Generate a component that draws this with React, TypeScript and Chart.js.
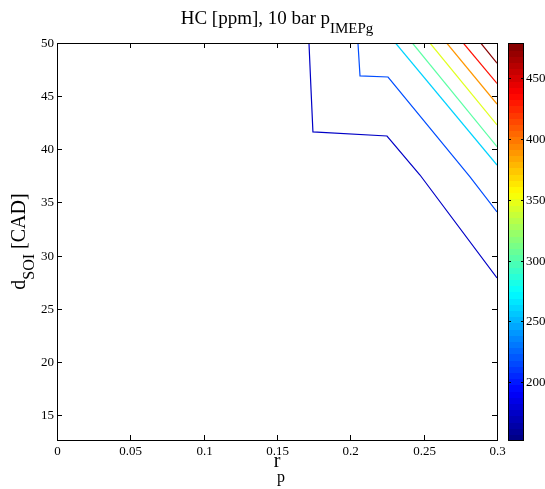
import React, { useEffect, useRef } from "react";
import { Chart, registerables } from "chart.js";

Chart.register(...registerables);

// ---- data ----
const xTicks = [0, 0.05, 0.1, 0.15, 0.2, 0.25, 0.3];
const xTickLabels = ["0", "0.05", "0.1", "0.15", "0.2", "0.25", "0.3"];
const yTicks = [15, 20, 25, 30, 35, 40, 45, 50];
const yTickLabels = ["15", "20", "25", "30", "35", "40", "45", "50"];
const cbTicks = [200, 250, 300, 350, 400, 450];
const cbTickLabels = ["200", "250", "300", "350", "400", "450"];
const cbMin = 152.5;
const cbMax = 479;
const xMin = 0;
const xMax = 0.3;
const yMin = 12.65;
const yMax = 50;

const levels = [175, 218, 261, 304, 347, 390, 433, 476];

const c1x = [0.1718, 0.1732, 0.1745, 0.225, 0.2475, 0.3];
const c1y = [50, 45.6, 41.63, 41.25, 37.58, 27.9];
const c2x = [0.2052, 0.2066, 0.2257, 0.2816, 0.3];
const c2y = [50, 46.9, 46.8, 37.4, 34.1];
const c3x = [0.2308, 0.3];
const c3y = [50, 38.52];
const c4x = [0.2423, 0.3];
const c4y = [50, 40.25];
const c5x = [0.2543, 0.3];
const c5y = [50, 42.3];
const c6x = [0.2657, 0.3];
const c6y = [50, 44.26];
const c7x = [0.277, 0.3];
const c7y = [50, 46.2];
const c8x = [0.2889, 0.3];
const c8y = [50, 48.1];

const contourXs = [c1x, c2x, c3x, c4x, c5x, c6x, c7x, c8x];
const contourYs = [c1y, c2y, c3y, c4y, c5y, c6y, c7y, c8y];

function clamp(v: number) {
  return Math.max(0, Math.min(1, v));
}
function jet(t: number): string {
  const r = clamp(1.5 - Math.abs(4 * t - 3));
  const g = clamp(1.5 - Math.abs(4 * t - 2));
  const b = clamp(1.5 - Math.abs(4 * t - 1));
  return `rgb(${Math.round(r * 255)},${Math.round(g * 255)},${Math.round(b * 255)})`;
}
function levelColor(v: number) {
  return jet((v - cbMin) / (cbMax - cbMin));
}

const SERIF = "'Liberation Serif', 'Times New Roman', serif";

const decorPlugin = {
  id: "decor",
  afterDraw(chart: any) {
    const ctx: CanvasRenderingContext2D = chart.ctx;
    const area = chart.chartArea;
    const xs = chart.scales.x;
    const ys = chart.scales.y;
    ctx.save();
    // axes box
    ctx.strokeStyle = "#000";
    ctx.lineWidth = 1;
    ctx.strokeRect(Math.round(area.left) + 0.5, Math.round(area.top) + 0.5, Math.round(area.right - area.left), Math.round(area.bottom - area.top));
    const tl = 5;
    ctx.fillStyle = "#000";
    ctx.font = `13px ${SERIF}`;
    // x ticks
    ctx.textAlign = "center";
    ctx.textBaseline = "top";
    xTicks.forEach((v, i) => {
      const px = Math.round(xs.getPixelForValue(v)) + 0.5;
      ctx.beginPath();
      ctx.moveTo(px, area.bottom);
      ctx.lineTo(px, area.bottom - tl);
      ctx.moveTo(px, area.top);
      ctx.lineTo(px, area.top + tl);
      ctx.stroke();
      ctx.fillText(xTickLabels[i], px, area.bottom + 5);
    });
    // y ticks
    ctx.textAlign = "right";
    ctx.textBaseline = "middle";
    yTicks.forEach((v, i) => {
      const py = Math.round(ys.getPixelForValue(v)) + 0.5;
      ctx.beginPath();
      ctx.moveTo(area.left, py);
      ctx.lineTo(area.left + tl, py);
      ctx.moveTo(area.right, py);
      ctx.lineTo(area.right - tl, py);
      ctx.stroke();
      ctx.fillText(yTickLabels[i], area.left - 3, py);
    });

    // title
    const cx = (area.left + area.right) / 2;
    ctx.textBaseline = "alphabetic";
    ctx.textAlign = "left";
    const tMain = "HC [ppm], 10 bar p";
    const tSub = "IMEPg";
    ctx.font = `19px ${SERIF}`;
    const w1 = ctx.measureText(tMain).width;
    ctx.font = `15px ${SERIF}`;
    const w2 = ctx.measureText(tSub).width;
    const tx = cx - (w1 + w2) / 2;
    ctx.font = `19px ${SERIF}`;
    ctx.fillText(tMain, tx, 24);
    ctx.font = `15px ${SERIF}`;
    ctx.fillText(tSub, tx + w1, 33);

    // x label
    ctx.font = `20px ${SERIF}`;
    ctx.textAlign = "center";
    ctx.fillText("r", cx, 467);
    ctx.font = `16px ${SERIF}`;
    ctx.fillText("p", cx + 4, 482);

    // y label (rotated)
    ctx.save();
    const cy = (area.top + area.bottom) / 2;
    ctx.translate(25, cy);
    ctx.rotate(-Math.PI / 2);
    ctx.textAlign = "left";
    ctx.font = `20px ${SERIF}`;
    const d = "d";
    const rest = " [CAD]";
    const wd = ctx.measureText(d).width;
    const wr = ctx.measureText(rest).width;
    ctx.font = `16px ${SERIF}`;
    const ws = ctx.measureText("SOI").width;
    const total = wd + ws + wr;
    let sx = -total / 2;
    ctx.font = `20px ${SERIF}`;
    ctx.fillText(d, sx, 0);
    sx += wd;
    ctx.font = `16px ${SERIF}`;
    ctx.fillText("SOI", sx, 9);
    sx += ws;
    ctx.font = `20px ${SERIF}`;
    ctx.fillText(rest, sx, 0);
    ctx.restore();

    // colorbar
    const cbL = 508;
    const cbR = 524;
    const cbT = area.top;
    const cbB = area.bottom;
    const n = 64;
    const h = (cbB - cbT) / n;
    for (let i = 0; i < n; i++) {
      const t = (i + 0.5) / n;
      ctx.fillStyle = jet(t);
      const y0 = cbB - (i + 1) * h;
      ctx.fillRect(cbL, Math.floor(y0), cbR - cbL, Math.ceil(h) + 1);
    }
    ctx.strokeStyle = "#000";
    ctx.lineWidth = 1;
    ctx.strokeRect(cbL + 0.5, Math.round(cbT) + 0.5, cbR - cbL - 1, Math.round(cbB - cbT));
    ctx.fillStyle = "#000";
    ctx.font = `13px ${SERIF}`;
    ctx.textAlign = "left";
    ctx.textBaseline = "middle";
    cbTicks.forEach((v, i) => {
      const py = Math.round(cbB - ((v - cbMin) / (cbMax - cbMin)) * (cbB - cbT)) + 0.5;
      ctx.beginPath();
      ctx.moveTo(cbL, py);
      ctx.lineTo(cbL + 3, py);
      ctx.moveTo(cbR, py);
      ctx.lineTo(cbR - 3, py);
      ctx.stroke();
      ctx.fillText(cbTickLabels[i], cbR + 2, py);
    });
    ctx.restore();
  },
};

export default function App() {
  const ref = useRef<HTMLCanvasElement>(null);
  useEffect(() => {
    if (!ref.current) return;
    const datasets = levels.map((lv, k) => ({
      label: String(lv),
      data: contourXs[k].map((x, i) => ({ x, y: contourYs[k][i] })),
      borderColor: levelColor(lv),
      backgroundColor: levelColor(lv),
      borderWidth: 1.2,
      pointRadius: 0,
      showLine: true,
      tension: 0,
      fill: false,
    }));
    const chart = new Chart(ref.current, {
      type: "scatter",
      data: { datasets },
      options: {
        animation: false,
        responsive: false,
        maintainAspectRatio: false,
        devicePixelRatio: 1,
        layout: { padding: { left: 57, top: 43, right: 48, bottom: 49 } },
        plugins: { legend: { display: false }, tooltip: { enabled: false }, title: { display: false } },
        scales: {
          x: { type: "linear", min: xMin, max: xMax, display: false },
          y: { type: "linear", min: yMin, max: yMax, display: false },
        },
      },
      plugins: [decorPlugin],
    });
    return () => chart.destroy();
  }, []);
  return (
    <div style={{ position: "absolute", left: 0, top: 0, width: 545, height: 489, background: "#fff" }}>
      <canvas ref={ref} width={545} height={489} style={{ width: 545, height: 489 }} />
    </div>
  );
}
